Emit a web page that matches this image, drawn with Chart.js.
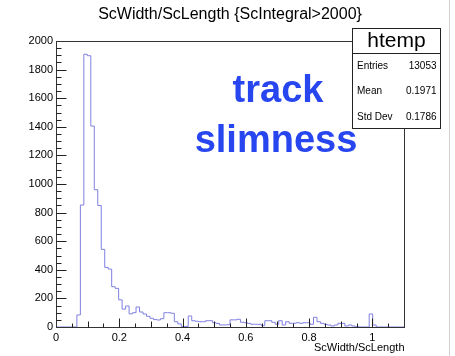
<!DOCTYPE html>
<html><head><meta charset="utf-8">
<script src="https://cdn.jsdelivr.net/npm/chart.js@4/dist/chart.umd.min.js"></script>
<style>html,body{margin:0;padding:0;background:#fff;}canvas{display:block;}</style>
</head><body>
<canvas id="c" width="455" height="356"></canvas>
<script>
const chartTitle = "ScWidth/ScLength {ScIntegral>2000}";
const xAxisTitle = "ScWidth/ScLength";
const histName = "htemp";
const statLabels = ["Entries", "Mean", "Std Dev"];
const statValues = ["13053", "0.1971", "0.1786"];
const annotationLines = ["track", "slimness"];
const xMin = 0, xMax = 1.1;
const binCounts = [
  0, 0, 0, 0, 0, 0, 84, 853, 1907, 1897,
  1405, 960, 850, 543, 417, 405, 282, 270, 190, 125,
  147, 92, 100, 140, 105, 91, 75, 61, 52, 49,
  58, 100, 100, 96, 37, 22, 3, 4, 77, 44,
  40, 37, 37, 44, 44, 30, 25, 14, 14, 16,
  50, 50, 54, 33, 30, 25, 19, 19, 19, 9,
  44, 44, 33, 19, 44, 14, 37, 26, 26, 30,
  26, 30, 30, 19, 68, 37, 26, 19, 14, 7,
  14, 26, 26, 7, 14, 7, 2, 0, 0, 0,
  91, 14, 0, 0, 0, 0, 0, 0, 0, 0
];
const xTickValues = [0, 0.2, 0.4, 0.6, 0.8, 1];
const xTickLabels = ["0", "0.2", "0.4", "0.6", "0.8", "1"];
const yTickValues = [0, 200, 400, 600, 800, 1000, 1200, 1400, 1600, 1800, 2000];
const yTickLabels = ["0", "200", "400", "600", "800", "1000", "1200", "1400", "1600", "1800", "2000"];
const yMin = 0, yMax = 2000;
const xMinorStep = 0.05, yMinorStep = 50;

const FONT = "'Liberation Sans', Arial, Helvetica, sans-serif";

// outline points: start at baseline, then each bin's right edge with its count
const binWidth = (xMax - xMin) / binCounts.length;
const outline = [{x: xMin, y: 0}];
binCounts.forEach((c, i) => outline.push({x: xMin + (i + 1) * binWidth, y: c}));

const overlay = {
  id: 'overlay',
  afterDraw(chart) {
    const {ctx, chartArea: a, scales: {x, y}} = chart;
    ctx.save();
    const L = Math.round(a.left) + 0.5, R = Math.round(a.right) + 0.5;
    const T = Math.round(a.top) + 0.5, B = Math.round(a.bottom) + 0.5;
    // window edge line
    ctx.strokeStyle = '#d0d0d0'; ctx.lineWidth = 1;
    ctx.beginPath(); ctx.moveTo(449.5, 0); ctx.lineTo(449.5, 356); ctx.stroke();
    // frame
    ctx.strokeStyle = '#333';
    ctx.strokeRect(L, T, R - L, B - T);
    // x ticks (inside)
    ctx.strokeStyle = '#222';
    ctx.beginPath();
    for (let v = xMin + xMinorStep; v < xMax - 1e-9; v += xMinorStep) {
      const vv = Math.round(v * 1000) / 1000;
      const px = Math.round(x.getPixelForValue(vv)) + 0.5;
      const isMajor = xTickValues.some(t => Math.abs(t - vv) < 1e-6);
      const isMid = Math.abs(Math.round(vv * 10) - vv * 10) < 1e-6;
      const len = isMajor ? 9 : (isMid ? 6 : 4);
      ctx.moveTo(px, B); ctx.lineTo(px, B - len);
    }
    // y ticks (inside)
    for (let v = yMin + yMinorStep; v < yMax; v += yMinorStep) {
      const py = Math.round(y.getPixelForValue(v)) + 0.5;
      const isMajor = yTickValues.includes(v);
      const len = isMajor ? 10 : 5;
      ctx.moveTo(L, py); ctx.lineTo(L + len, py);
    }
    ctx.stroke();
    // title
    ctx.fillStyle = '#000';
    ctx.font = '16px ' + FONT;
    ctx.textAlign = 'center'; ctx.textBaseline = 'middle';
    ctx.fillText(chartTitle, 230, 15);
    // x axis title
    ctx.font = '11px ' + FONT;
    ctx.textAlign = 'right';
    ctx.fillText(xAxisTitle, R, 348);
    // stats box
    const bx = 352.5, by = 28.5, bw = 88, bh = 100;
    ctx.fillStyle = '#fff';
    ctx.fillRect(bx, by, bw, bh);
    ctx.strokeStyle = '#222';
    ctx.strokeRect(bx, by, bw, bh);
    ctx.beginPath(); ctx.moveTo(bx, 53.5); ctx.lineTo(bx + bw, 53.5); ctx.stroke();
    ctx.fillStyle = '#000';
    ctx.font = '21px ' + FONT;
    ctx.textAlign = 'center';
    ctx.fillText(histName, bx + bw / 2, 41);
    ctx.font = '10px ' + FONT;
    const rowsY = [66, 91.5, 117];
    statLabels.forEach((s, i) => {
      ctx.textAlign = 'left'; ctx.fillText(s, 357, rowsY[i]);
      ctx.textAlign = 'right'; ctx.fillText(statValues[i], 436.5, rowsY[i]);
    });
    // annotation
    ctx.fillStyle = '#2846f0';
    ctx.font = 'bold 38px ' + FONT;
    ctx.textAlign = 'center'; ctx.textBaseline = 'alphabetic';
    ctx.fillText(annotationLines[0], 278, 102);
    ctx.fillText(annotationLines[1], 276, 152);
    ctx.restore();
  }
};

new Chart(document.getElementById('c'), {
  type: 'line',
  data: {
    datasets: [{
      data: outline,
      stepped: 'after',
      borderColor: '#8080e2',
      borderWidth: 1,
      pointRadius: 0,
      fill: false,
      tension: 0,
      clip: 2
    }]
  },
  options: {
    responsive: false,
    animation: false,
    events: [],
    layout: {padding: {left: 0, top: 41, right: 51, bottom: 0}},
    plugins: {legend: {display: false}, tooltip: {enabled: false}, title: {display: false}},
    scales: {
      x: {
        type: 'linear', min: xMin, max: xMax,
        grid: {display: false, drawTicks: false},
        border: {display: false},
        afterBuildTicks: s => { s.ticks = xTickValues.map(v => ({value: v})); },
        afterFit: s => { s.height = 29; },
        ticks: {
          autoSkip: false, maxRotation: 0, padding: 4, color: '#000',
          font: {family: FONT, size: 11},
          callback: (v) => { const i = xTickValues.findIndex(t => Math.abs(t - v) < 1e-9); return i >= 0 ? xTickLabels[i] : ''; }
        }
      },
      y: {
        type: 'linear', min: yMin, max: yMax,
        grid: {display: false, drawTicks: false},
        border: {display: false},
        afterBuildTicks: s => { s.ticks = yTickValues.map(v => ({value: v})); },
        afterFit: s => { s.width = 56; },
        ticks: {
          autoSkip: false, padding: 3, color: '#000',
          font: {family: FONT, size: 11},
          callback: (v) => { const i = yTickValues.indexOf(v); return i >= 0 ? yTickLabels[i] : ''; }
        }
      }
    }
  },
  plugins: [overlay]
});
</script>
</body></html>
